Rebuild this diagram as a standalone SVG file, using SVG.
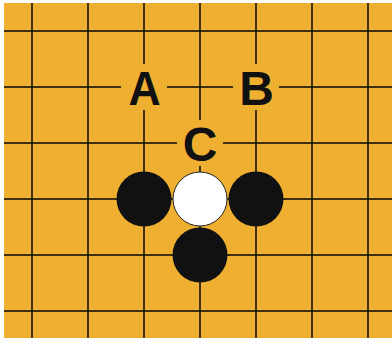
<svg xmlns="http://www.w3.org/2000/svg" width="392" height="338" viewBox="0 0 392 338">
  <style>
    .grid line { stroke: #000; stroke-opacity: 0.72; stroke-width: 2; }
    .black { fill: #111; }
    .white { fill: #fff; stroke: #222; stroke-width: 1; }
    .mask { fill: #EFB031; }
    .lbl { font-family: "Liberation Sans", Arial, sans-serif; font-weight: bold; font-size: 48px; fill: #111; text-anchor: middle; }
  </style>
  <rect x="0" y="0" width="392" height="338" fill="#fff"/>
  <rect x="4" y="3" width="388" height="335" fill="#EFB031"/>
  <g id="grid" class="grid">
    <line x1="32" y1="3" x2="32" y2="338"/>
    <line x1="88" y1="3" x2="88" y2="338"/>
    <line x1="144" y1="3" x2="144" y2="338"/>
    <line x1="200" y1="3" x2="200" y2="338"/>
    <line x1="256" y1="3" x2="256" y2="338"/>
    <line x1="312" y1="3" x2="312" y2="338"/>
    <line x1="368" y1="3" x2="368" y2="338"/>
    <line x1="4" y1="31" x2="392" y2="31"/>
    <line x1="4" y1="87" x2="392" y2="87"/>
    <line x1="4" y1="143" x2="392" y2="143"/>
    <line x1="4" y1="199" x2="392" y2="199"/>
    <line x1="4" y1="255" x2="392" y2="255"/>
    <line x1="4" y1="311" x2="392" y2="311"/>
  </g>
  <g id="label-A">
    <circle class="mask" cx="144" cy="87" r="23"/>
    <text class="lbl" transform="translate(144.5,104.5) scale(0.93,1)">A</text>
  </g>
  <g id="label-B">
    <circle class="mask" cx="256" cy="87" r="23"/>
    <text class="lbl" x="256.5" y="104.5">B</text>
  </g>
  <g id="label-C">
    <circle class="mask" cx="200" cy="143" r="23"/>
    <text class="lbl" x="200" y="160.5">C</text>
  </g>
  <g id="stone-black-left"><circle class="black" cx="144" cy="199" r="27.5"/></g>
  <g id="stone-white-center"><circle class="white" cx="200" cy="199" r="27"/></g>
  <g id="stone-black-right"><circle class="black" cx="256" cy="199" r="27.5"/></g>
  <g id="stone-black-bottom"><circle class="black" cx="200" cy="255" r="27.5"/></g>
</svg>
